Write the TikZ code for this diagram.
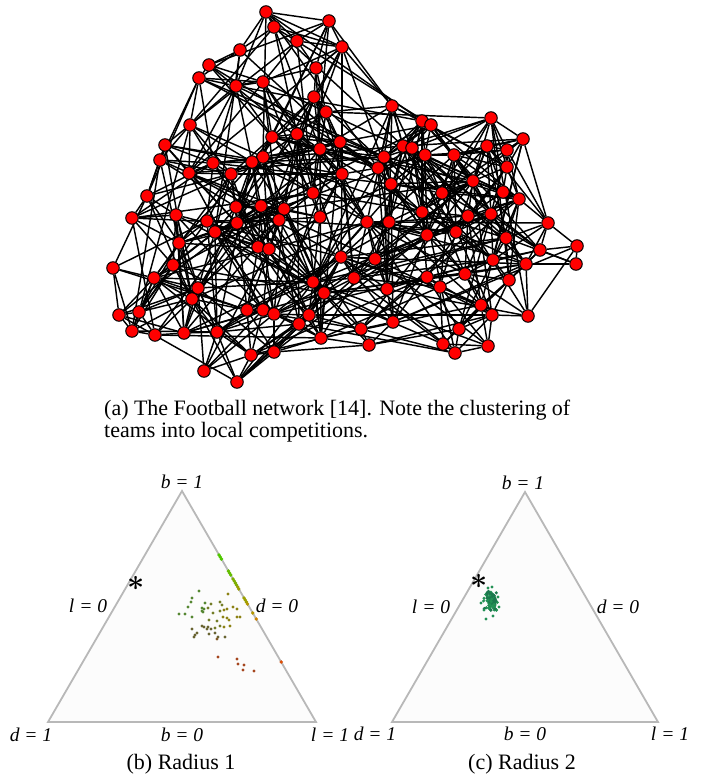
\documentclass[tikz,border=0pt]{standalone}
\usepackage{fontspec}
\setmainfont{Liberation Serif}
\usetikzlibrary{backgrounds}
\definecolor{triedge}{RGB}{184,184,184}
\definecolor{trifill}{RGB}{252,252,252}
\definecolor{gA}{RGB}{80,200,0}
\definecolor{gAA}{RGB}{100,190,0}
\definecolor{gB}{RGB}{125,175,0}
\definecolor{gC}{RGB}{155,160,0}
\definecolor{gCC}{RGB}{180,150,0}
\definecolor{gD}{RGB}{205,130,0}
\definecolor{gE}{RGB}{220,80,10}
\definecolor{cG}{RGB}{85,135,50}
\definecolor{cM}{RGB}{115,125,40}
\definecolor{cY}{RGB}{140,130,20}
\definecolor{cN}{RGB}{105,100,50}
\definecolor{cB}{RGB}{130,90,40}
\definecolor{cR}{RGB}{165,70,30}
\definecolor{cT}{RGB}{35,145,85}
\definecolor{cTT}{RGB}{28,120,78}
\tikzset{
  vtx/.style={circle,fill=red,draw=black,line width=1pt,minimum size=12.5pt,inner sep=0pt},
  linkline/.style={line width=1.45pt,black},
  trishape/.style={draw=triedge,fill=trifill,line width=1.8pt,line join=miter},
  labtxt/.style={font=\fontsize{19.5}{22}\selectfont\itshape,inner sep=0pt},
  captxt/.style={font=\fontsize{22}{26}\selectfont,inner sep=0pt},
  asttxt/.style={font=\fontsize{24.88}{26}\selectfont\boldmath,inner sep=0pt,scale=1.2}
}
\begin{document}
\begin{tikzpicture}
\useasboundingbox (0,0) rectangle (707pt,-775pt);
% ---------------- network nodes
\foreach \i/\x/\y in {1/266/12,2/329/21,3/274/27,4/297/41,5/342/47,6/240/50,7/209/65,8/316/68,9/199/78,10/236/86,
11/263/82,12/314/97,13/326/112,14/392/106,15/422/121,16/431/125,17/491/118,18/190/125,19/297/134,20/272/137,
21/340/142,22/523/139,23/487/146,24/507/150,25/403/146,26/412/148,27/384/157,28/425/155,29/454/155,30/378/168,
31/507/167,32/165/145,33/320/149,34/160/160,35/263/157,36/252/162,37/213/163,38/189/173,39/231/174,40/342/174,
41/391/184,42/473/181,43/442/193,44/503/192,45/519/199,46/313/193,47/147/196,48/132/218,49/176/215,50/207/221,
51/236/207,52/261/206,53/284/209,54/237/223,55/279/220,56/320/217,57/215/232,58/179/243,59/258/247,60/269/249,
61/341/257,62/113/268,63/173/265,64/154/278,65/198/288,66/313/282,67/324/293,68/192/299,69/119/315,70/139/312,
71/247/310,72/263/310,73/274/314,74/309/315,75/299/324,76/132/331,77/155/335,78/184/333,79/217/332,80/321/338,
81/251/355,82/274/352,83/204/371,84/237/382,85/422/212,86/468/216,87/491/214,88/367/222,89/389/222,90/548/223,
91/427/235,92/456/232,93/506/238,94/577/246,95/540/250,96/576/264,97/526/264,98/493/260,99/375/259,100/354/278,
101/427/277,102/465/274,103/509/280,104/440/287,105/387/289,106/481/305,107/492/315,108/528/316,109/393/322,110/361/329,
111/459/329,112/369/345,113/443/344,114/488/346,115/455/353}{
  \node[vtx] (n\i) at (\x pt,-\y pt) {};
  \expandafter\xdef\csname px\i\endcsname{\x}
  \expandafter\xdef\csname py\i\endcsname{\y}
}
% ---------------- network edges (behind the nodes)
\pgfmathsetseed{4242}
\begin{pgfonlayer}{background}
\foreach \i in {1,...,114}{%
  \pgfmathtruncatemacro\jst{\i+1}%
  \foreach \j in {\jst,...,115}{%
    \edef\dd{\the\numexpr(\csname px\i\endcsname-\csname px\j\endcsname)*(\csname px\i\endcsname-\csname px\j\endcsname)+(\csname py\i\endcsname-\csname py\j\endcsname)*(\csname py\i\endcsname-\csname py\j\endcsname)\relax}%
    \ifnum\dd<44000
      \edef\qq{\the\numexpr\dd/30\relax}%
      \pgfmathsetmacro\pp{0.92/(1+(\qq/100)^2)+0.055}%
      \pgfmathrnd
      \ifdim\pgfmathresult pt<\pp pt
        \draw[linkline] (n\i) -- (n\j);
      \fi
    \fi
  }%
}
\end{pgfonlayer}
% ---------------- caption (a)
\node[captxt,anchor=west] (capa1) at (104pt,-410pt) {\makebox[466pt][s]{(a) The Football network [14]. Note the clustering of}};
\node[captxt,anchor=west] (capa2) at (104pt,-432pt) {teams into local competitions.};
% ---------------- triangle (b)
\coordinate (bL) at (48pt,-722pt);
\coordinate (bT) at (182pt,-491pt);
\coordinate (bR) at (316pt,-722pt);
\draw[trishape] (bL) -- (bT) -- (bR) -- cycle;
\foreach \x/\y/\c in {219.1/555/gA,220.3/557/gA,221.4/559/gA,228.4/571/gAA,229.6/573/gAA,230.7/575/gAA,
233.0/579/gB,234.2/581/gB,235.4/583/gB,236.5/585/gB,237.7/587/gC,238.8/589/gC,244.1/598/gC,245.2/600/gC,
246.4/602/gC,247.5/604/gCC,252.8/613/gCC,256.3/619/gD,281.2/662/gE}{
  \fill[\c] (\x pt,-\y pt) circle (1.9pt);
}
\foreach \x/\y/\c in {199/591/cG,228/594/cY,192/598/cG,191/602/cG,205/603/cG,211/604/cM,220/602/cM,188/607/cG,
202/608/cG,202/611/cG,203/612/cG,204/609/cG,208/608/cM,222/605/cM,233/607/cY,237/609/cY,220/611/cM,224/610/cY,
227/609/cY,213/613/cM,179/614/cG,185/614/cG,192/617/cG,223/617/cY,227/618/cY,229/620/cY,237/617/cY,240/617/cY,
209/620/cM,217/621/cM,202/626/cN,204/627/cN,208/627/cN,211/629/cN,215/628/cM,220/626/cM,224/627/cY,230/626/cY,
192/629/cN,197/633/cN,195/635/cN,194/637/cN,207/629/cN,209/634/cN,215/633/cN,218/637/cN,225/637/cN,217/639/cB,
218/657/cR,237/659/cR,238/664/cR,244/665/cR,243/670/cR,254/671/cR}{
  \fill[\c] (\x pt,-\y pt) circle (1.7pt);
}
\node[asttxt] (sb) at (136pt,-583pt) {$\ast$};
\node[labtxt] (b1) at (182pt,-482pt) {b = 1};
\node[labtxt] (bd1) at (31pt,-735pt) {d = 1};
\node[labtxt] (bb0) at (182pt,-735pt) {b = 0};
\node[labtxt] (bl1) at (330pt,-735pt) {l = 1};
\node[labtxt] (bl0) at (88pt,-606pt) {l = 0};
\node[labtxt] (bd0) at (277pt,-606pt) {d = 0};
\node[captxt] (capb) at (181pt,-764pt) {(b) Radius 1};
% ---------------- triangle (c)
\coordinate (cL) at (392pt,-722pt);
\coordinate (cT) at (525pt,-492pt);
\coordinate (cR) at (658pt,-722pt);
\draw[trishape] (cL) -- (cT) -- (cR) -- cycle;
\pgfmathsetseed{77}
\foreach \k in {1,...,110}{
  \pgfmathsetmacro\xx{490.5+3.6*(rand+rand)}
  \pgfmathsetmacro\yy{601+6*(rand+rand)}
  \pgfmathrnd
  \ifdim\pgfmathresult pt<0.5pt
    \fill[cT] (\xx pt,-\yy pt) circle (1.7pt);
  \else
    \fill[cTT] (\xx pt,-\yy pt) circle (1.7pt);
  \fi
}
\foreach \x/\y in {492/587,488/588,481/603,486/619,493/616,498/597,499/607,484/610}{
  \fill[cT] (\x pt,-\y pt) circle (1.7pt);
}
\node[asttxt] (sc) at (479pt,-581pt) {$\ast$};
\node[labtxt] (c1) at (523pt,-483pt) {b = 1};
\node[labtxt] (cd1) at (375pt,-734pt) {d = 1};
\node[labtxt] (cb0) at (525pt,-734pt) {b = 0};
\node[labtxt] (cl1) at (670pt,-734pt) {l = 1};
\node[labtxt] (cl0) at (431pt,-607pt) {l = 0};
\node[labtxt] (cd0) at (618pt,-607pt) {d = 0};
\node[captxt] (capc) at (522pt,-764pt) {(c) Radius 2};
\end{tikzpicture}
\end{document}
